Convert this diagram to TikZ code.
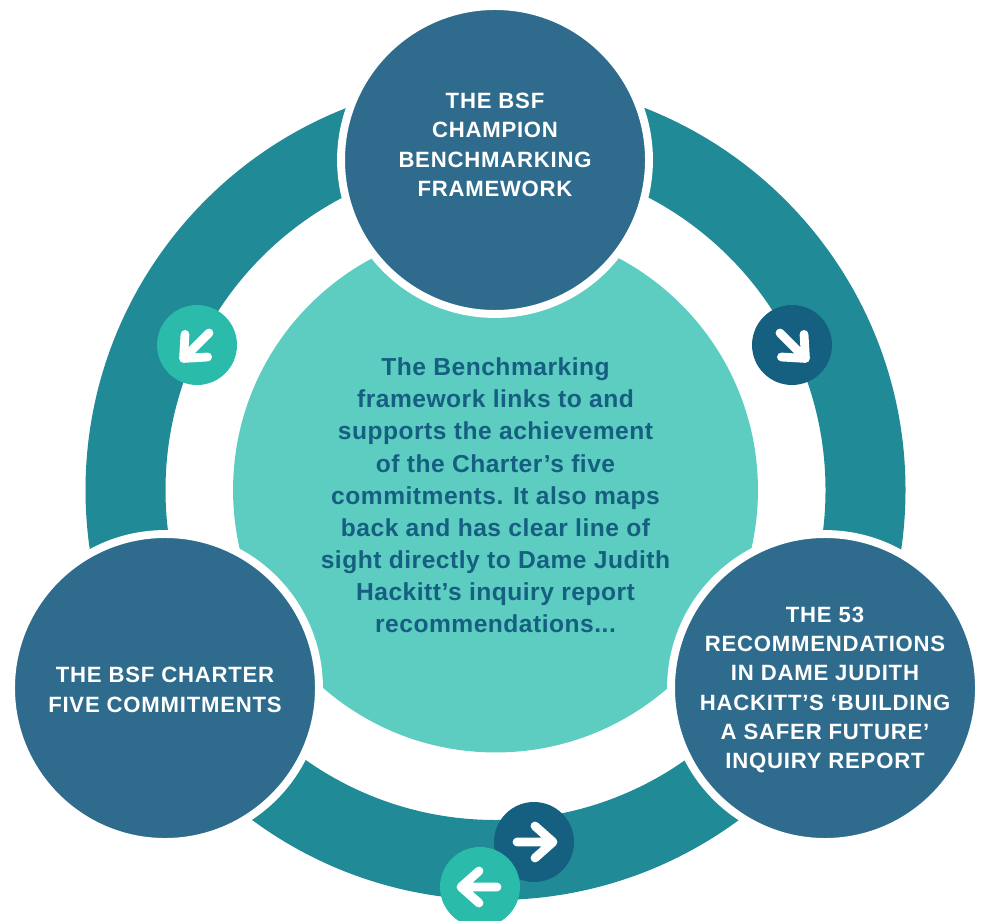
\documentclass[tikz,border=0pt]{standalone}
\usepackage{fontspec}
\setmainfont{Liberation Sans}
\newfontfamily\capsfont[LetterSpace=3.5]{Liberation Sans}
\newfontfamily\centrefont[LetterSpace=2]{Liberation Sans}
\definecolor{ringteal}{HTML}{208A96}
\definecolor{bubbleblue}{HTML}{2F6B8C}
\definecolor{centreteal}{HTML}{5DCCC1}
\definecolor{arrowdark}{HTML}{155F80}
\definecolor{arrowlight}{HTML}{2ABBAA}
\tikzstyle{bubble}=[circle,fill=bubbleblue,draw=white,line width=4.5pt,minimum size=6.16cm,inner sep=0pt]
\tikzstyle{bubbletext}=[align=center,text=white,inner sep=0pt,font=\capsfont\bfseries\fontsize{12.6}{16.7}\selectfont]
\tikzstyle{centretext}=[align=center,text=arrowdark,inner sep=0pt,font=\centrefont\bfseries\fontsize{14}{18.3}\selectfont]
\tikzstyle{arrowdisc}=[circle,minimum size=1.6cm,inner sep=0pt]
\tikzset{arrowicon/.pic={
    \draw[white,line width=5pt,line cap=round,line join=round] (-17,0) -- (19,0) (1,16) -- (19,0) -- (1,-16);
}}

\begin{document}
\begin{tikzpicture}[x=0.02cm,y=0.02cm]
    \useasboundingbox (0,0) rectangle (982,920);
    \fill[ringteal,even odd rule] (495.5,430) circle (410) (495.5,430) circle (330);
    \node[circle,fill=centreteal,minimum size=10.5cm,inner sep=0pt] (centre) at (495.5,430) {};

    \node[bubble] (top) at (495,760) {};
    \node[bubble] (left) at (165,232) {};
    \node[bubble] (right) at (825,232) {};

    \node[bubbletext] (toptext) at (495,775) {THE BSF\\CHAMPION\\BENCHMARKING\\FRAMEWORK};
    \node[bubbletext] (lefttext) at (165,230) {THE BSF CHARTER\\FIVE COMMITMENTS};
    \node[bubbletext] (righttext) at (825,230) {THE 53\\RECOMMENDATIONS\\IN DAME JUDITH\\HACKITT’S ‘BUILDING\\A SAFER FUTURE’\\INQUIRY REPORT};
    \node[centretext] (centretxt) at (495.5,424.5) {The Benchmarking\\framework links to and\\supports the achievement\\of the Charter’s five\\commitments. It also maps\\back and has clear line of\\sight directly to Dame Judith\\Hackitt’s inquiry report\\recommendations...};

    \foreach \name/\pos/\col/\ang in {nw/{(197,575)}/arrowlight/225,ne/{(792,575)}/arrowdark/-45,se/{(534,78)}/arrowdark/0,sw/{(480,33)}/arrowlight/180}{
        \node[arrowdisc,fill=\col] (\name) at \pos {};
        \pic[rotate=\ang] at (\name) {arrowicon};
    }
\end{tikzpicture}
\end{document}
